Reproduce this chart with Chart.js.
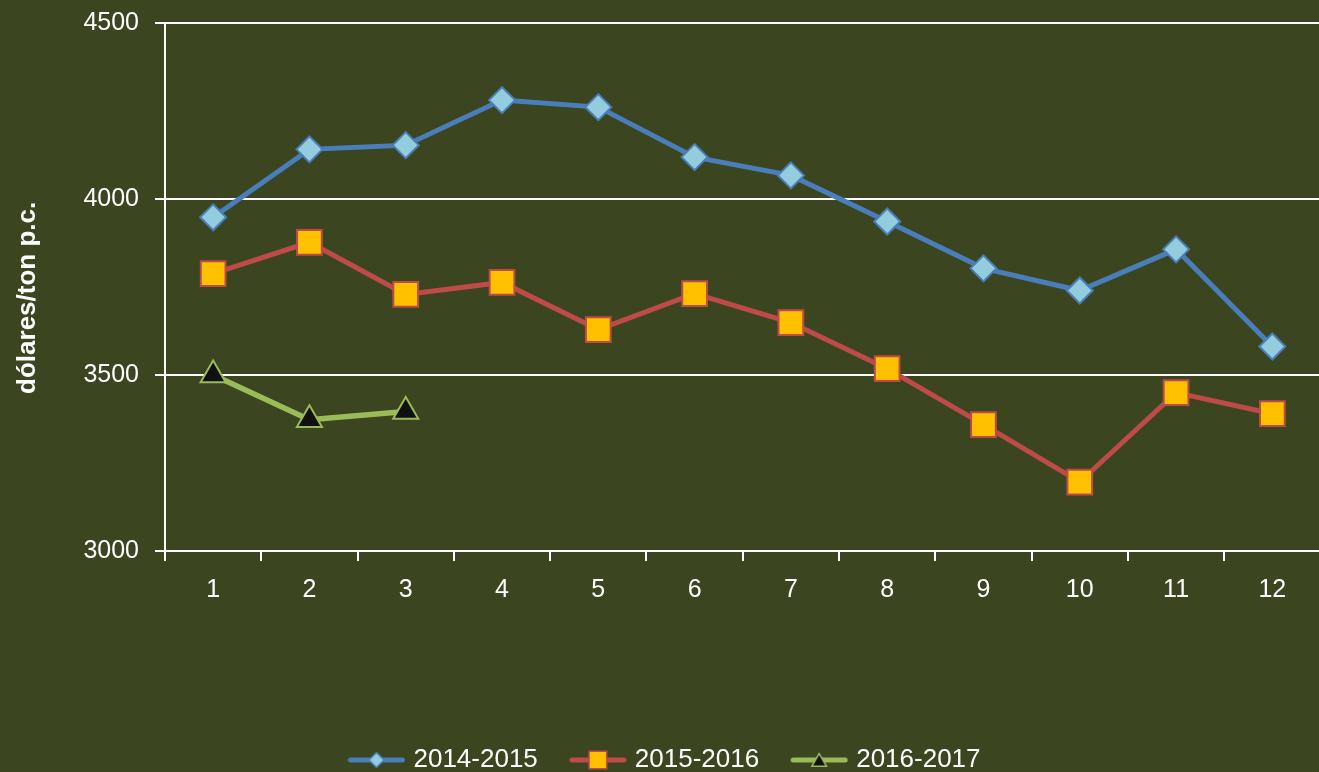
<!DOCTYPE html>
<html>
<head>
<meta charset="utf-8">
<script src="https://cdn.jsdelivr.net/npm/chart.js@4.4.1/dist/chart.umd.min.js"></script>
<style>
  html, body { margin: 0; padding: 0; background: #3b4520; overflow: hidden; }
  #wrap { width: 1340px; height: 772px; position: relative; }
</style>
</head>
<body>
<div id="wrap"><canvas id="precios"></canvas></div>
<script>
// data
const meses = ['1', '2', '3', '4', '5', '6', '7', '8', '9', '10', '11', '12'];
const etiquetas = ['2014-2015', '2015-2016', '2016-2017'];
const serie1415 = [3948, 4141, 4153, 4281, 4261, 4119, 4067, 3936, 3803, 3740, 3857, 3581];
const serie1516 = [3788, 3877, 3729, 3763, 3629, 3731, 3649, 3518, 3359, 3196, 3450, 3390];
const serie1617 = [3500, 3373, 3396];
const yTicks = [3000, 3500, 4000, 4500];

const fondo = '#3b4520';
const fuente = 'Liberation Sans';

// little line+marker picture for each legend entry
function legendSymbol(lineColor, style, fill, border, r) {
  const c = document.createElement('canvas');
  c.width = 58; c.height = 22;
  const g = c.getContext('2d');
  g.strokeStyle = lineColor; g.lineWidth = 5; g.lineCap = 'round';
  g.beginPath(); g.moveTo(3, 11); g.lineTo(55, 11); g.stroke();
  g.fillStyle = fill; g.strokeStyle = border; g.lineWidth = 1.5;
  Chart.helpers.drawPoint(g, { pointStyle: style, radius: r, borderWidth: 1.5, rotation: 0 }, 29, style === 'triangle' ? 13 : 11);
  return c;
}

const simbolos = [
  legendSymbol('#4a7ebb', 'rectRot', '#93cddd', '#4a7ebb', 7.5),
  legendSymbol('#be4b48', 'rect', '#ffc000', '#be4b48', 12.5),
  legendSymbol('#9bbb59', 'triangle', '#111111', '#9bbb59', 8.5)
];

const bgPlugin = {
  id: 'bg',
  beforeDraw(chart) {
    const ctx = chart.ctx;
    ctx.save();
    ctx.fillStyle = fondo;
    ctx.fillRect(0, 0, chart.width, chart.height);
    ctx.restore();
  }
};

new Chart(document.getElementById('precios').getContext('2d'), {
  type: 'line',
  data: {
    labels: meses,
    datasets: [{
      label: etiquetas[0],
      data: serie1415,
      borderColor: '#4a7ebb',
      borderWidth: 5,
      pointStyle: 'rectRot',
      pointRadius: 13,
      pointBackgroundColor: '#93cddd',
      pointBorderColor: '#4a7ebb',
      pointBorderWidth: 2,
      tension: 0
    }, {
      label: etiquetas[1],
      data: serie1516,
      borderColor: '#be4b48',
      borderWidth: 5,
      pointStyle: 'rect',
      pointRadius: 17.5,
      pointBackgroundColor: '#ffc000',
      pointBorderColor: '#be4b48',
      pointBorderWidth: 2,
      tension: 0
    }, {
      label: etiquetas[2],
      data: serie1617,
      borderColor: '#9bbb59',
      borderWidth: 5.5,
      pointStyle: 'triangle',
      pointRadius: 14.5,
      pointBackgroundColor: '#111111',
      pointBorderColor: '#9bbb59',
      pointBorderWidth: 2,
      tension: 0
    }]
  },
  options: {
    responsive: true,
    maintainAspectRatio: false,
    animation: false,
    layout: { padding: { top: 0, right: 7, left: 0, bottom: -11 } },
    plugins: {
      tooltip: { enabled: false },
      legend: {
        position: 'bottom',
        labels: {
          color: '#ffffff',
          font: { family: fuente, size: 26 },
          usePointStyle: true,
          pointStyleWidth: 48,
          padding: 36,
          generateLabels(chart) {
            return chart.data.datasets.map((ds, i) => ({
              text: ds.label,
              fontColor: '#ffffff',
              pointStyle: simbolos[i],
              lineWidth: 0,
              strokeStyle: 'transparent',
              fillStyle: 'transparent',
              datasetIndex: i,
              hidden: false
            }));
          }
        }
      }
    },
    scales: {
      x: {
        offset: true,
        grid: {
          display: true,
          drawOnChartArea: false,
          drawTicks: true,
          tickLength: 10,
          offset: true,
          color: '#ffffff',
          lineWidth: 2
        },
        border: { color: '#ffffff', width: 2 },
        ticks: {
          color: '#ffffff',
          font: { family: fuente, size: 25 },
          padding: 14,
          maxRotation: 0
        },
        afterFit(scale) { scale.height = 160; }
      },
      y: {
        min: 3000,
        max: 4500,
        afterBuildTicks(scale) { scale.ticks = yTicks.map(v => ({ value: v })); },
        grid: {
          color: '#ffffff',
          lineWidth: 2,
          tickLength: 10
        },
        border: { color: '#ffffff', width: 2 },
        ticks: {
          color: '#ffffff',
          font: { family: fuente, size: 25 },
          padding: 16,
          callback: v => String(v)
        },
        title: {
          display: true,
          text: 'dólares/ton p.c.\u00a0\u00a0\u00a0',
          color: '#ffffff',
          font: { family: fuente, size: 26, weight: 'bold' },
          padding: { top: 12, bottom: 0 }
        },
        afterFit(scale) {
          scale.width = 165;
          scale.paddingTop = 23;
        }
      }
    }
  },
  plugins: [bgPlugin]
});
</script>
</body>
</html>
